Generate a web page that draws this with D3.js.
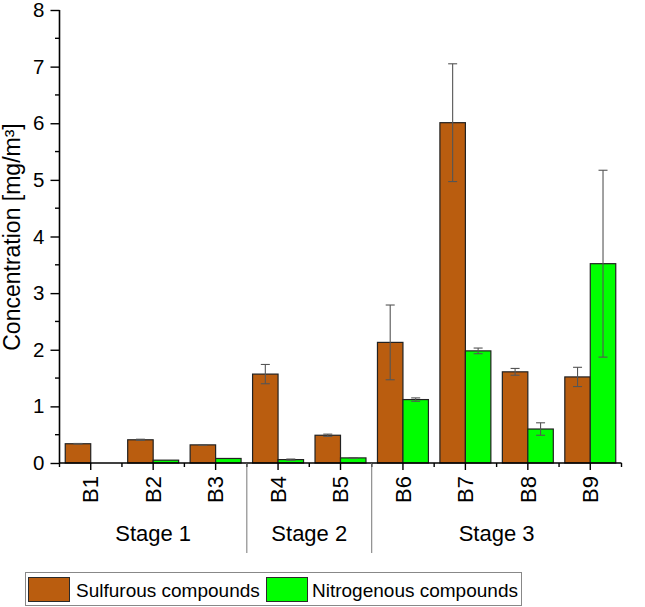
<!DOCTYPE html>
<html><head><meta charset="utf-8">
<script src="https://cdn.jsdelivr.net/npm/d3@7"></script>
<style>body{margin:0;background:#fff;} text{font-family:"Liberation Sans",Arial,sans-serif;fill:#000;}</style>
</head><body>
<svg id="c" width="645" height="607"></svg>
<script>
const categories = ["B1","B2","B3","B4","B5","B6","B7","B8","B9"];
const sulfurous = [0.34, 0.41, 0.32, 1.57, 0.49, 2.13, 6.01, 1.61, 1.52];
const sulfurousErr = [0.005, 0.01, 0.005, 0.17, 0.02, 0.66, 1.04, 0.06, 0.17];
const nitrogenous = [0.0, 0.05, 0.08, 0.06, 0.09, 1.12, 1.98, 0.60, 3.52];
const nitrogenousErr = [0, 0, 0, 0.01, 0.005, 0.03, 0.05, 0.11, 1.65];
const stages = [{name:"Stage 1", from:"B1", to:"B3"},{name:"Stage 2", from:"B4", to:"B5"},{name:"Stage 3", from:"B6", to:"B9"}];
const yTicks = [0,1,2,3,4,5,6,7,8];
const seriesNames = ["Sulfurous compounds","Nitrogenous compounds"];
const colors = ["#BA5D0F","#00FF00"];

const svg = d3.select("#c");
const x0 = 59.5, x1 = 621.5, yB = 463, yT = 10;
const x = d3.scaleBand().domain(categories).range([x0, x1]).paddingInner(0).paddingOuter(0);
const bw = x.bandwidth();
const xs = d3.scaleBand().domain([0,1]).range([bw*0.092, bw*0.908]);
const y = d3.scaleLinear().domain([0,8]).range([yB, yT]);

const series = [
  {vals: sulfurous, err: sulfurousErr},
  {vals: nitrogenous, err: nitrogenousErr}
];

// bars
series.forEach((s, si) => {
  svg.append("g").selectAll("rect").data(categories).join("rect")
    .attr("x", d => x(d) + xs(si))
    .attr("width", xs.bandwidth())
    .attr("y", (d,i) => y(s.vals[i]))
    .attr("height", (d,i) => yB - y(s.vals[i]))
    .attr("fill", colors[si])
    .attr("stroke", "#222").attr("stroke-width", 1.2);
});
// error bars
series.forEach((s, si) => {
  const g = svg.append("g").attr("stroke", "#555").attr("stroke-width", 1.1).attr("fill","none");
  categories.forEach((c, i) => {
    if (!s.err[i]) return;
    const cx = x(c) + xs(si) + xs.bandwidth()/2;
    const hi = y(s.vals[i] + s.err[i]), lo = y(s.vals[i] - s.err[i]);
    g.append("line").attr("x1", cx).attr("x2", cx).attr("y1", hi).attr("y2", lo);
    g.append("line").attr("x1", cx-4.5).attr("x2", cx+4.5).attr("y1", hi).attr("y2", hi);
    g.append("line").attr("x1", cx-4.5).attr("x2", cx+4.5).attr("y1", lo).attr("y2", lo);
  });
});

// y axis
const yAxis = d3.axisLeft(y).tickValues(yTicks).tickFormat(d3.format("d")).tickSize(9).tickPadding(6);
const gy = svg.append("g").attr("transform", `translate(${x0},0)`).call(yAxis);
gy.select(".domain").attr("d", `M0,${yB}V${yT}`).attr("stroke","#000").attr("stroke-width",1.6);
gy.selectAll(".tick line").attr("stroke","#000").attr("stroke-width",1.4);
gy.selectAll(".tick text").attr("font-size", 20.5).attr("font-family","Liberation Sans, Arial, sans-serif").attr("fill","#000");
// minor y ticks
const minor = d3.range(0.5, 8, 1);
gy.selectAll(".minor").data(minor).join("line").attr("class","minor")
  .attr("x1",-4.5).attr("x2",0).attr("y1",d=>y(d)).attr("y2",d=>y(d)).attr("stroke","#000").attr("stroke-width",1.4);

// x axis
const gx = svg.append("g").attr("transform", `translate(0,${yB})`);
gx.append("line").attr("x1", x0).attr("x2", x1).attr("y1",0).attr("y2",0).attr("stroke","#000").attr("stroke-width",1.6);
gx.selectAll(".maj").data(categories).join("line").attr("class","maj")
  .attr("x1", d => x(d)+bw/2).attr("x2", d => x(d)+bw/2).attr("y1",0).attr("y2",7).attr("stroke","#000").attr("stroke-width",1.4);
const bounds = categories.map(c => x(c)).concat([x1]);
gx.selectAll(".mn").data(bounds).join("line").attr("class","mn")
  .attr("x1", d => d).attr("x2", d => d).attr("y1",0).attr("y2",4).attr("stroke","#000").attr("stroke-width",1.4);
gx.selectAll(".lab").data(categories).join("text").attr("class","lab")
  .attr("transform", d => `translate(${x(d)+bw/2},13) rotate(-90)`)
  .attr("text-anchor","end").attr("dy","0.35em").attr("font-size",22).text(d => d);

// stage separators and labels
stages.forEach((st, i) => {
  const a = x(st.from), b = x(st.to) + bw;
  svg.append("text").attr("x", (a+b)/2).attr("y", 541).attr("text-anchor","middle").attr("font-size",22).text(st.name);
  if (i > 0) {
    svg.append("line").attr("x1", a).attr("x2", a).attr("y1", yB).attr("y2", 553).attr("stroke","#777").attr("stroke-width",1);
  }
});

// y title
svg.append("text").attr("transform", "translate(20,237) rotate(-90)").attr("text-anchor","middle")
  .attr("font-size",23).text("Concentration [mg/m³]");

// legend
const lg = svg.append("g");
lg.append("rect").attr("x",25.5).attr("y",572.5).attr("width",496).attr("height",33).attr("fill","#fff").attr("stroke","#888").attr("stroke-width",1);
const legX = [28, 266], legTX = [76, 312];
seriesNames.forEach((n, i) => {
  lg.append("rect").attr("x", legX[i]+0.5).attr("y", 577.5).attr("width", 41).attr("height", 24).attr("fill", colors[i]).attr("stroke","#2a2a2a");
  lg.append("text").attr("x", legTX[i]).attr("y", 597).attr("font-size",19).text(n);
});
</script>
</body></html>
